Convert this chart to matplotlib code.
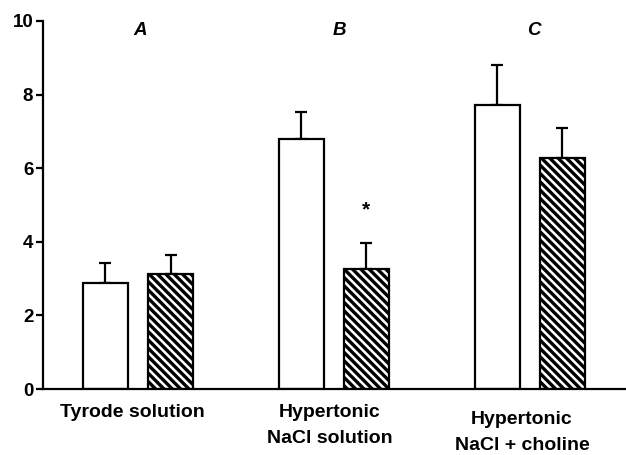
import numpy as np
import matplotlib
matplotlib.use('Agg')
import matplotlib.pyplot as plt

# group means and SEM (upper error only)
groups = ['Tyrode solution', 'Hypertonic\nNaCl solution', 'Hypertonic\nNaCl + choline']
panel_tags = ['A', 'B', 'C']
control = [2.88, 6.79, 7.72]
control_err = [0.55, 0.74, 1.08]
treated = [3.13, 3.26, 6.28]
treated_err = [0.51, 0.71, 0.81]
star_y = 4.88

plt.rcParams['font.family'] = ['Liberation Sans', 'DejaVu Sans']
plt.rcParams['hatch.linewidth'] = 2.4

fig = plt.figure(figsize=(6.26, 4.55), dpi=100)
ax = fig.add_axes([0.0687, 0.145, 0.931, 0.809])

x = np.arange(len(groups))
w = 0.23
off = 0.166

ax.bar(x - off, control, w, color='white', edgecolor='black', linewidth=1.6, zorder=2)
ax.bar(x + off, treated, w, color='white', edgecolor='black', linewidth=1.6,
       hatch='\\\\\\\\', zorder=2)
ax.errorbar(x - off, control, yerr=[np.zeros(3), control_err], fmt='none',
            ecolor='black', elinewidth=1.6, capsize=4, capthick=1.6, zorder=1)
ax.errorbar(x + off, treated, yerr=[np.zeros(3), treated_err], fmt='none',
            ecolor='black', elinewidth=1.6, capsize=4, capthick=1.6, zorder=1)

ax.text(x[1] + off, star_y, '*', ha='center', va='center', fontsize=15, fontweight='bold')

tag_x = [0.01, 1.03, 2.02]
for tx, t in zip(tag_x, panel_tags):
    ax.text(tx, 9.75, t, ha='center', va='center', fontsize=13.5,
            fontweight='bold', fontstyle='italic')

ax.set_xlim(-0.485, 2.49)
ax.set_ylim(0, 10)
ax.set_yticks([0, 2, 4, 6, 8, 10])
ax.set_xticks([])
for s in ['top', 'right']:
    ax.spines[s].set_visible(False)
ax.spines['left'].set_linewidth(1.6)
ax.spines['bottom'].set_linewidth(1.6)
ax.tick_params(axis='y', direction='out', length=5, width=1.6, labelsize=13.5, pad=2)
for lab in ax.get_yticklabels():
    lab.set_fontweight('bold')

label_pos = [(-0.03, -0.4), (0.98, -0.4), (1.96, -0.6)]
for (lx, ly), g in zip(label_pos, groups):
    ax.text(lx, ly, g, ha='center', va='top', fontsize=14, fontweight='bold',
            linespacing=1.7, clip_on=False)

fig.savefig('out.png', dpi=100)
